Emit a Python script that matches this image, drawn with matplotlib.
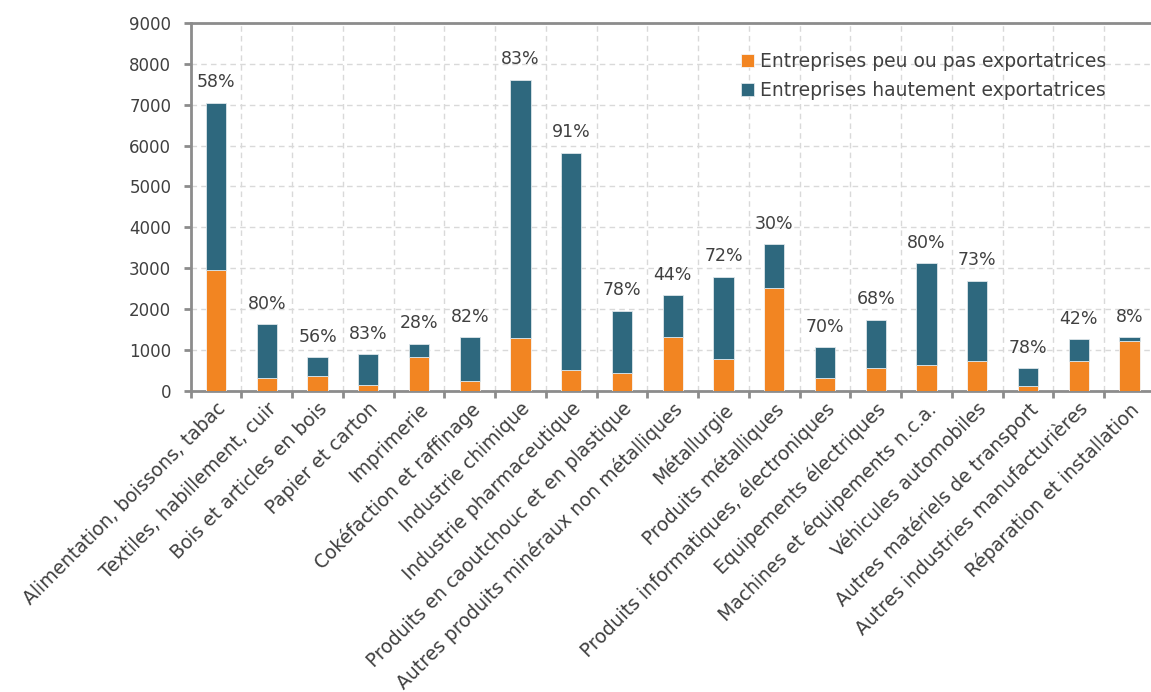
import numpy as np
import matplotlib
matplotlib.use("Agg")
import matplotlib.pyplot as plt
import matplotlib.transforms as mtransforms

# secteurs de l'industrie manufacturiere
secteurs = [
    "Alimentation, boissons, tabac",
    "Textiles, habillement, cuir",
    "Bois et articles en bois",
    "Papier et carton",
    "Imprimerie",
    "Cokéfaction et raffinage",
    "Industrie chimique",
    "Industrie pharmaceutique",
    "Produits en caoutchouc et en plastique",
    "Autres produits minéraux non métalliques",
    "Métallurgie",
    "Produits métalliques",
    "Produits informatiques, électroniques",
    "Equipements électriques",
    "Machines et équipements n.c.a.",
    "Véhicules automobiles",
    "Autres matériels de transport",
    "Autres industries manufacturières",
    "Réparation et installation",
]
totaux = [7050, 1630, 820, 900, 1160, 1320, 7610, 5830, 1960, 2340,
          2790, 3590, 1075, 1745, 3120, 2690, 550, 1265, 1320]
part_export = [58, 80, 56, 83, 28, 82, 83, 91, 78, 44,
               72, 30, 70, 68, 80, 73, 78, 42, 8]

totaux = np.array(totaux, dtype=float)
hautement = totaux * np.array(part_export) / 100.0
peu = totaux - hautement

orange = "#F28522"
bleu = "#2E687E"
gris = "#8C8C8C"
texte = "#404040"

plt.rcParams['font.family'] = ['DejaVu Sans']

fig = plt.figure(figsize=(11.51, 6.92), dpi=100)
ax = fig.add_axes([0.1657, 0.435, 0.8376, 0.532])

x = np.arange(len(secteurs))
ax.bar(x, peu, width=0.4, color=orange, edgecolor="#F5F5F5", linewidth=0.6,
       label="Entreprises peu ou pas exportatrices", zorder=3)
ax.bar(x, hautement, bottom=peu, width=0.4, color=bleu, edgecolor="#DDE6EA",
       linewidth=0.6, label="Entreprises hautement exportatrices", zorder=3)

for xi, tot, p in zip(x, totaux, part_export):
    ax.text(xi, tot + 280, "%d%%" % p, ha="center", va="bottom",
            fontsize=12.5, color=texte)

ax.set_xlim(-0.5, len(secteurs) - 0.5)
ax.set_ylim(0, 9000)
ax.set_yticks(np.arange(0, 9001, 1000))

# graduations entre les barres, libelles au centre
ax.set_xticks(np.arange(-0.5, len(secteurs) - 0.4, 1.0))
ax.set_xticklabels([])
ax.set_xticks(x, minor=True)
ax.set_xticklabels(secteurs, minor=True, rotation=45, ha="right", va="top",
                   rotation_mode="anchor", fontsize=13.5, color=texte)
decalage = mtransforms.ScaledTranslation(-0.07, 0, fig.dpi_scale_trans)
for lab in ax.get_xticklabels(minor=True):
    lab.set_transform(lab.get_transform() + decalage)
ax.tick_params(axis="x", which="minor", length=0, pad=6)
ax.tick_params(axis="x", which="major", length=5, width=2, color=gris)
ax.tick_params(axis="y", length=5, width=2, color=gris, labelsize=12,
               labelcolor=texte, pad=9)

ax.grid(True, which="major", color="#D9D9D9", linestyle=(0, (4, 3)),
        linewidth=1, zorder=0)
ax.set_axisbelow(True)

for side in ["left", "bottom", "top"]:
    ax.spines[side].set_color(gris)
    ax.spines[side].set_linewidth(2)
ax.spines["right"].set_visible(False)

leg = ax.legend(loc="upper left", bbox_to_anchor=(0.563, 0.941), frameon=False,
                fontsize=13.5, handlelength=0.7, handleheight=0.7,
                handletextpad=0.3, labelspacing=0.55, borderaxespad=0)
for t in leg.get_texts():
    t.set_color(texte)

fig.savefig("out.png", dpi=100)
